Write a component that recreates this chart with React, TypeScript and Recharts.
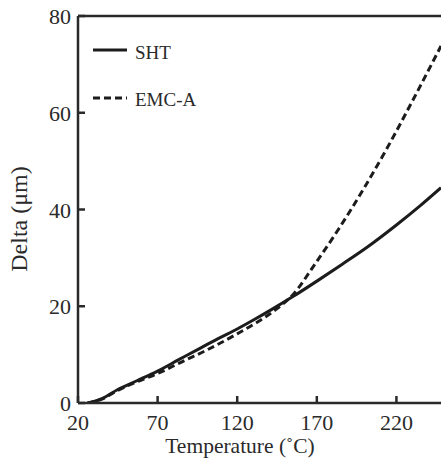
import React from 'react';
import { LineChart, Line, XAxis, YAxis, ReferenceLine, Legend, Label } from 'recharts';

// SHT (solid) series
const shtTemperature = [26, 30, 35, 45, 57, 70, 83, 96, 108, 120, 131, 142, 155, 171, 186, 202, 220, 235, 248];
const shtDelta = [0, 0.3, 0.9, 2.8, 4.6, 6.6, 8.9, 11.2, 13.3, 15.3, 17.3, 19.4, 22.0, 25.4, 28.7, 32.3, 36.8, 40.8, 44.5];

// EMC-A (dashed) series
const emcTemperature = [26, 30, 35, 45, 57, 70, 87, 100, 120, 132, 145, 155, 169, 183, 200, 214, 230, 248];
const emcDelta = [0, 0.3, 0.8, 2.6, 4.4, 6.1, 8.8, 10.8, 14.3, 16.6, 19.5, 22.4, 28.8, 35.6, 44.6, 52.6, 62.4, 73.8];

const xTicks = [20, 70, 120, 170, 220];
const yTicks = [0, 20, 40, 60, 80];
const seriesNames = ['SHT', 'EMC-A'];
const xTitle = 'Temperature (\u02DAC)';
const yTitle = 'Delta (\u03BCm)';

const shtData = shtTemperature.map((x, i) => ({ x, y: shtDelta[i] }));
const emcData = emcTemperature.map((x, i) => ({ x, y: emcDelta[i] }));

const FONT = '"Liberation Serif", "Times New Roman", serif';
const INK = '#2a2a2a';
const LINE = '#1c1c1c';
const DASH = '7 4';

const XTick = (props: any) => {
  const { x, y, payload } = props;
  return (
    <g>
      <line x1={x} y1={y} x2={x} y2={y - 7} stroke={INK} strokeWidth={2.5} />
      <text x={x} y={y + 27} textAnchor="middle" fontFamily={FONT} fontSize={22} fill={INK}>
        {payload.value}
      </text>
    </g>
  );
};

const YTick = (props: any) => {
  const { x, y, payload } = props;
  return (
    <g>
      <line x1={x} y1={y} x2={x + 7} y2={y} stroke={INK} strokeWidth={2.5} />
      <text x={x - 7} y={y + 8} textAnchor="end" fontFamily={FONT} fontSize={22} fill={INK}>
        {payload.value}
      </text>
    </g>
  );
};

const XTitle = (props: any) => {
  const vb = props.viewBox || { x: 78, y: 403 };
  return (
    <text x={vb.x + 162} y={vb.y + 50} textAnchor="middle" fontFamily={FONT} fontSize={21.5} fill={INK}>
      {xTitle}
    </text>
  );
};

const YTitle = (props: any) => {
  const vb = props.viewBox || { x: 0, y: 16 };
  const cx = vb.x + 27;
  const cy = vb.y + 203;
  return (
    <text
      x={cx}
      y={cy}
      transform={`rotate(-90, ${cx}, ${cy})`}
      textAnchor="middle"
      fontFamily={FONT}
      fontSize={24}
      fill={INK}
    >
      {yTitle}
    </text>
  );
};

const LegendContent = (props: any) => {
  const payload = props.payload || [];
  const items = seriesNames.map((name, i) => {
    const entry = payload.find((p: any) => p.value === name);
    const dash = entry?.payload?.strokeDasharray ?? (i === 1 ? DASH : undefined);
    return { name, dash };
  });
  return (
    <svg width={120} height={80} style={{ display: 'block', overflow: 'visible' }}>
      {items.map((it, i) => (
        <g key={it.name}>
          <line
            x1={5}
            x2={39}
            y1={15 + i * 48}
            y2={15 + i * 48}
            stroke={LINE}
            strokeWidth={3}
            strokeDasharray={it.dash}
          />
          <text x={47} y={24 + i * 47} fontFamily={FONT} fontSize={19} fill={INK}>
            {it.name}
          </text>
        </g>
      ))}
    </svg>
  );
};

export default function App() {
  return (
    <div style={{ position: 'absolute', left: 0, top: 0, width: 441, height: 458, background: '#fff' }}>
      <LineChart width={441} height={458} margin={{ top: 16, right: 0, bottom: 0, left: 0 }}>
        <XAxis
          type="number"
          dataKey="x"
          domain={[20, 248]}
          allowDataOverflow
          ticks={xTicks}
          interval={0}
          height={55}
          tickSize={0}
          tickMargin={0}
          tickLine={false}
          axisLine={{ stroke: INK, strokeWidth: 2.5 }}
          tick={<XTick />}
        >
          <Label content={<XTitle />} />
        </XAxis>
        <YAxis
          type="number"
          dataKey="y"
          domain={[0, 80]}
          allowDataOverflow
          ticks={yTicks}
          interval={0}
          width={78}
          tickSize={0}
          tickMargin={0}
          tickLine={false}
          axisLine={{ stroke: INK, strokeWidth: 2.5 }}
          tick={<YTick />}
        >
          <Label content={<YTitle />} />
        </YAxis>
        <ReferenceLine y={80} stroke={INK} strokeWidth={2.5} />
        <Line
          name="SHT"
          data={shtData}
          dataKey="y"
          type="monotone"
          stroke={LINE}
          strokeWidth={3}
          dot={false}
          isAnimationActive={false}
        />
        <Line
          name="EMC-A"
          data={emcData}
          dataKey="y"
          type="monotone"
          stroke={LINE}
          strokeWidth={3}
          strokeDasharray={DASH}
          dot={false}
          isAnimationActive={false}
        />
        <Legend
          layout="horizontal"
          verticalAlign="middle"
          align="center"
          content={<LegendContent />}
          wrapperStyle={{ position: 'absolute', left: 88, top: 35, width: 120, height: 80 }}
        />
      </LineChart>
    </div>
  );
}
